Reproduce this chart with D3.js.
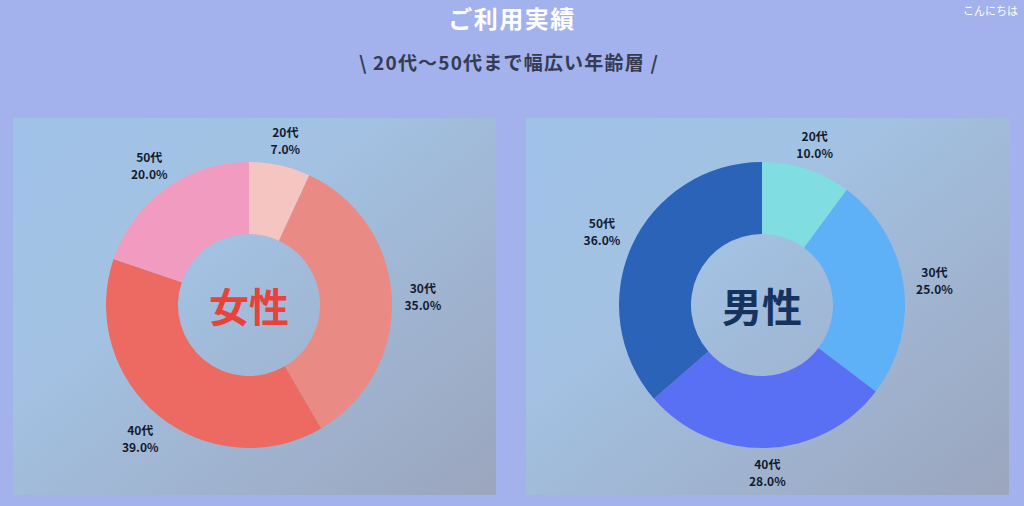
<!DOCTYPE html>
<html lang="ja">
<head>
<meta charset="UTF-8">
<title>ご利用実績</title>
<script src="https://d3js.org/d3.v7.min.js"></script>
<style>
  html, body { margin: 0; padding: 0; background: #a3b1ec; overflow: hidden; }
  svg { display: block; font-family: "Noto Sans CJK JP", "Noto Sans", sans-serif; }
</style>
</head>
<body>
<script>
// data
const ages = ["20代", "30代", "40代", "50代"];
const womenShare = [7.0, 35.0, 39.0, 20.0];
const menShare = [10.0, 25.0, 28.0, 36.0];
const womenColors = ["#f5c5c1", "#e98b84", "#ec6a61", "#f09bbf"];
const menColors = ["#80dde1", "#5eb1f6", "#5a70f4", "#2b63b9"];

const width = 1024, height = 506;
const svg = d3.select("body").append("svg")
    .attr("width", width)
    .attr("height", height);

const defs = svg.append("defs");
const grad = defs.append("linearGradient")
    .attr("id", "panelBg")
    .attr("x1", "0%").attr("y1", "0%")
    .attr("x2", "100%").attr("y2", "100%");
grad.append("stop").attr("offset", "0%").attr("stop-color", "#a0c2e8");
grad.append("stop").attr("offset", "35%").attr("stop-color", "#a3c2e3");
grad.append("stop").attr("offset", "100%").attr("stop-color", "#9ba5bd");

// titles
svg.append("text")
    .attr("x", 512).attr("y", 28)
    .attr("text-anchor", "middle")
    .attr("fill", "#ffffff")
    .attr("font-size", 24)
    .attr("font-weight", 700)
    .attr("letter-spacing", 1.5)
    .text("ご利用実績");

svg.append("text")
    .attr("x", 509).attr("y", 70)
    .attr("text-anchor", "middle")
    .attr("fill", "#363b52")
    .attr("font-size", 19)
    .attr("font-weight", 700)
    .attr("letter-spacing", 1.2)
    .text("\\ 20代〜50代まで幅広い年齢層 /");

svg.append("text")
    .attr("x", 963).attr("y", 15)
    .attr("fill", "#ffffff")
    .attr("font-size", 11)
    .text("こんにちは");

const panels = [
    { x: 13, label: "女性", labelColor: "#e8433a", values: womenShare, colors: womenColors, cx: 249 },
    { x: 526, label: "男性", labelColor: "#16335f", values: menShare, colors: menColors, cx: 762 }
];

const outerR = 143, innerR = 71, gap = 11;
const boxW = 20, boxH = 14; // half sizes of a two-line label
const pie = d3.pie().sort(null).value(d => d.v);
const arc = d3.arc().innerRadius(innerR).outerRadius(outerR);

function labelPos(d) {
    const a = (d.startAngle + d.endAngle) / 2;
    const dx = Math.sin(a), dy = -Math.cos(a);
    const edge = Math.min(boxW / Math.max(Math.abs(dx), 1e-6), boxH / Math.max(Math.abs(dy), 1e-6));
    const r = outerR + gap + edge;
    return [dx * r, dy * r];
}

panels.forEach(p => {
    svg.append("rect")
        .attr("x", p.x).attr("y", 118)
        .attr("width", 483).attr("height", 377)
        .attr("fill", "url(#panelBg)");

    const g = svg.append("g").attr("transform", `translate(${p.cx},305)`);
    const data = pie(ages.map((a, i) => ({ age: a, v: p.values[i], c: p.colors[i] })));

    g.selectAll("path")
        .data(data)
        .join("path")
        .attr("d", arc)
        .attr("fill", d => d.data.c);

    // two-line labels: age and share
    const lbl = g.selectAll("g.lbl")
        .data(data)
        .join("g")
        .attr("class", "lbl")
        .attr("transform", d => `translate(${labelPos(d)})`)
        .attr("text-anchor", "middle")
        .attr("fill", "#141a2e")
        .attr("font-size", 12)
        .attr("font-weight", 700);
    lbl.append("text").attr("y", -3.5).text(d => d.data.age);
    lbl.append("text").attr("y", 13.5).text(d => d.data.v.toFixed(1) + "%");

    g.append("text")
        .attr("y", 17)
        .attr("text-anchor", "middle")
        .attr("fill", p.labelColor)
        .attr("font-size", 40)
        .attr("font-weight", 700)
        .text(p.label);
});
</script>
</body>
</html>
